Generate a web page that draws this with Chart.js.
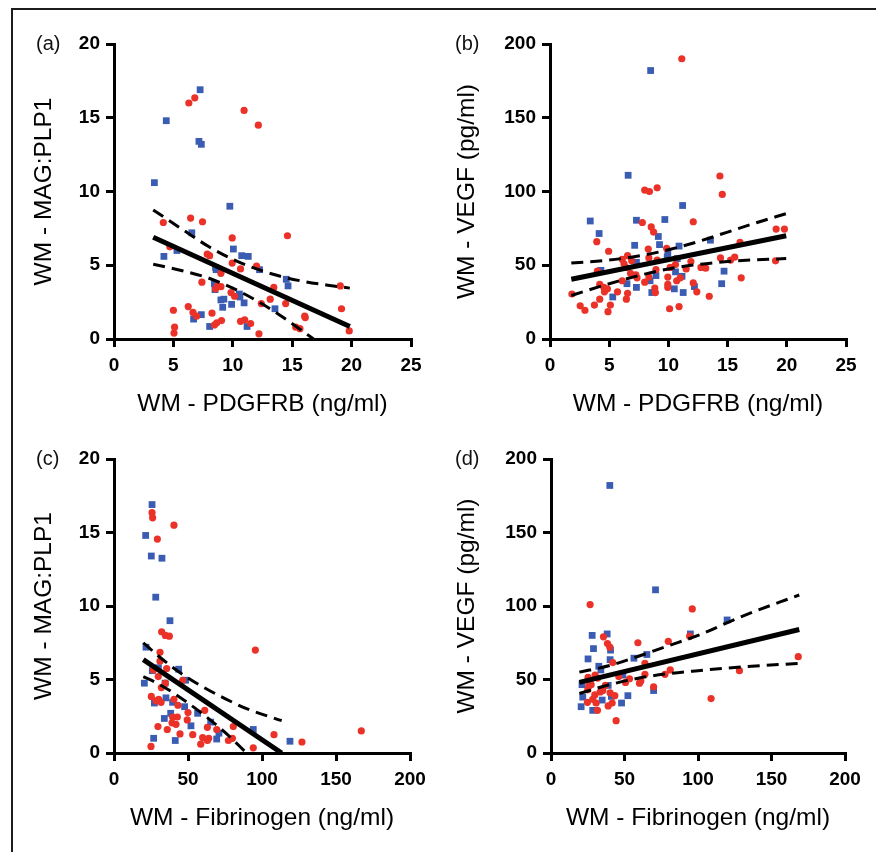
<!DOCTYPE html>
<html><head><meta charset="utf-8">
<script src="https://cdn.jsdelivr.net/npm/chart.js@4.4.1/dist/chart.umd.min.js"></script>
<style>
html,body{margin:0;padding:0;background:#fff}
body{width:876px;height:852px;overflow:hidden;position:relative;font-family:"Liberation Sans",Arial,Helvetica,sans-serif}
.frame{position:absolute;left:11px;top:8px;width:880px;height:860px;border-left:2.5px solid #1c1c1c;border-top:2.5px solid #1c1c1c;box-sizing:border-box}
canvas{position:absolute;left:0;top:0;pointer-events:none}
.lbl{position:absolute;font-size:20px;line-height:20px;color:#111}
</style></head><body>
<div class="frame"></div>
<canvas id="ca" width="876" height="852"></canvas>
<canvas id="cb" width="876" height="852"></canvas>
<canvas id="cc" width="876" height="852"></canvas>
<canvas id="cd" width="876" height="852"></canvas>
<div class="lbl" style="left:36px;top:33px">(a)</div>
<div class="lbl" style="left:455px;top:33px">(b)</div>
<div class="lbl" style="left:36px;top:448px">(c)</div>
<div class="lbl" style="left:455px;top:448px">(d)</div>
<script>
// ---------- tick labels ----------
const xTicksPDGFRB = [0, 5, 10, 15, 20, 25];
const xTicksFib = [0, 50, 100, 150, 200];
const yTicksRatio = [0, 5, 10, 15, 20];
const yTicksVEGF = [0, 50, 100, 150, 200];

// ---------- panel (a): WM PDGFRB vs MAG:PLP1 ----------
const aBlue = [[7.25,16.9],[4.4,14.8],[7.15,13.4],[7.35,13.2],[3.4,10.6],[9.75,9.0],[6.55,7.2],[5.3,6.0],[4.2,5.6],[10.05,6.1],[10.75,5.65],[11.3,5.6],[8.55,4.85],[8.6,4.7],[12.25,4.7],[14.5,4.05],[14.65,3.6],[8.45,3.75],[8.5,3.35],[10.55,3.05],[10.6,2.85],[9.0,2.65],[9.25,2.7],[10.95,2.45],[9.15,2.15],[9.9,2.35],[13.55,2.05],[7.35,1.65],[6.7,1.35],[8.05,0.85],[11.2,0.85]];
const aRed = [[6.3,16.0],[6.8,16.35],[10.95,15.5],[12.15,14.5],[6.45,8.2],[7.45,7.95],[4.15,7.9],[14.6,7.0],[9.95,6.85],[4.7,6.25],[7.85,5.75],[8.05,5.65],[9.95,5.15],[10.65,4.75],[12.0,4.95],[9.0,4.45],[7.4,3.85],[8.7,3.6],[9.0,3.55],[8.55,3.4],[13.45,3.5],[19.05,3.6],[9.85,3.15],[10.15,2.9],[13.15,2.7],[12.4,2.4],[14.45,2.4],[19.15,2.05],[5.0,1.95],[6.25,2.2],[6.65,1.8],[6.95,1.55],[8.25,1.75],[16.1,1.45],[16.05,1.55],[10.65,1.2],[11.0,1.3],[11.5,1.05],[9.05,1.25],[8.65,1.1],[8.45,0.95],[5.1,0.8],[5.05,0.4],[12.2,0.35],[15.3,0.8],[15.65,0.7],[19.8,0.55]];
const aFit = [[3.3,6.9],[19.85,0.85]];
const aUpper = [[3.3,8.75],[6,7.3],[8,6.25],[10,5.4],[12,4.75],[14,4.25],[16,3.9],[18,3.65],[19.85,3.45]];
const aLower = [[3.3,5.07],[6,4.58],[8,4.12],[10,3.45],[12,2.6],[14,1.6],[16,0.46],[16.8,0]];

// ---------- panel (b): WM PDGFRB vs VEGF ----------
const bBlue = [[8.5,182],[6.6,111],[11.2,90.5],[3.4,80],[7.3,80.5],[9.7,81],[4.15,71.5],[9.15,69.5],[13.55,67],[7.15,63.5],[9.25,64],[10.9,63],[9.95,58.5],[9.9,55.5],[10.75,54.5],[7.3,52],[4.3,46.5],[14.7,46],[10.6,45.5],[8.95,43],[11.15,42.5],[6.5,37.5],[8.45,39.5],[14.5,37.5],[7.3,35],[12.2,35.5],[10.5,34],[8.6,31.5],[11.25,31.5],[5.3,28.5]];
const bRed = [[11.13,190],[14.35,110.5],[14.55,98],[8.0,101],[8.4,100],[9.05,102.5],[7.8,79],[8.55,76],[8.75,72.5],[12.1,79.5],[19.1,74.5],[19.8,74.5],[3.95,66],[16.05,65.5],[4.95,59.5],[8.3,61],[9.85,61.5],[6.55,56.5],[6.1,54],[6.9,53],[8.35,55],[9.05,53.5],[14.4,55],[15.25,53.5],[15.6,55.5],[19.05,53],[11.9,52.5],[6.25,51],[6.4,48.5],[10.6,50.5],[10.15,48.5],[12.75,48.5],[13.15,48],[11.5,47.5],[4.0,46],[6.8,44.5],[7.25,43.5],[7.35,41.5],[8.35,42],[8.95,47],[9.95,42],[11.0,41.5],[10.7,39.5],[16.15,41.5],[6.1,39.5],[4.2,37],[8.0,38.5],[12.1,38],[9.95,37],[4.55,35],[4.85,34],[8.85,34.5],[9.95,35],[4.6,32],[5.7,32],[6.55,31],[12.4,32],[8.9,31.5],[1.85,30.5],[4.2,27],[6.45,27],[13.45,29],[2.55,22.5],[3.75,23],[5.1,23],[2.95,19.5],[4.9,18.5],[10.1,20.5],[10.9,22]];
const bFit = [[1.8,40.5],[19.95,70]];
const bUpper = [[1.8,51.5],[5,53.5],[8,57],[10,60.5],[12.5,66],[15,72.5],[17.5,79],[19.95,85]];
const bLower = [[1.8,29.5],[5,37.5],[8,44],[10,47.5],[12.5,50.5],[15,52.5],[17.5,53.8],[19.95,54.5]];

// ---------- panel (c): WM Fibrinogen vs MAG:PLP1 ----------
const cBlue = [[25.7,16.9],[21.4,14.8],[25.2,13.4],[32.4,13.25],[28.2,10.6],[37.8,9.0],[21.6,7.2],[30,5.8],[43.7,5.7],[25.9,5.6],[48.4,4.95],[34.5,4.75],[20.5,4.75],[35.1,3.75],[27.3,3.4],[39.6,3.45],[38.3,2.7],[47.7,3.15],[56.5,2.7],[34,2.35],[52,1.85],[65.3,2.1],[70.9,1.35],[69.4,0.95],[41.4,0.85],[26.8,1.0],[94.1,1.6],[118.9,0.8]];
const cRed = [[25.7,16.35],[26.1,16.0],[40.5,15.5],[29.3,14.55],[32.2,8.25],[34.7,8.0],[37.4,7.95],[95.5,7.0],[31.1,6.85],[31.1,6.25],[35.6,5.75],[26.6,5.65],[29.9,5.2],[46.4,4.95],[34.7,4.75],[32,4.45],[25.2,3.85],[30.2,3.65],[31.8,3.45],[28.4,3.55],[40.5,3.65],[43.2,3.25],[39.6,2.45],[42.8,2.45],[39.2,2.05],[41.9,1.95],[50,2.75],[49.5,2.25],[61.3,2.9],[63.1,1.75],[80.6,1.8],[69.4,1.6],[29.7,1.8],[36,1.6],[44.6,1.3],[53.2,1.25],[59.9,1.05],[63.1,0.85],[64,1.0],[58.6,0.6],[77.3,0.85],[80,1.0],[94.1,0.35],[25,0.45],[108.1,1.25],[127,0.75],[167.1,1.5]];
const cFit = [[19.8,6.35],[113.3,0]];
const cUpper = [[19.8,7.5],[30,6.6],[40,5.8],[50,5.1],[60,4.5],[75,3.7],[90,3.0],[113.3,2.2]];
const cLower = [[19.8,5.2],[30,4.7],[40,4.1],[50,3.4],[60,2.65],[75,1.4],[89.6,0]];

// ---------- panel (d): WM Fibrinogen vs VEGF ----------
const dBlue = [[40,182],[71.1,111],[119.8,90.5],[94.8,81],[38.2,81],[28,80],[28.9,71],[40.5,70],[25.2,64],[40.2,63.5],[56.4,64.5],[65.2,67],[32.5,59],[33.9,56.5],[48.9,53],[21.1,46.5],[38.9,46],[69.8,42.5],[21.6,38],[34.8,36],[52.3,39],[48,34],[20.5,31.5],[28.4,29],[41.1,38.5]];
const dRed = [[26.6,101],[96.1,98],[94.3,79.5],[59.1,75],[79.8,76],[35.7,79],[38.4,74.5],[40,72],[42,61.5],[63.9,61],[168.2,65.5],[128.2,56],[81.1,56.5],[77.5,53.5],[63.9,53.5],[46.1,52],[53.4,50.5],[60.2,47.5],[61.1,49],[50.7,48],[25.2,51.5],[30,53],[31.8,51],[27.3,46.5],[25,43],[37,46],[35.2,42.5],[29.8,39.5],[33.4,41.5],[40.2,41],[43.4,39],[69.8,45],[108.9,37],[30.7,34],[31.6,29],[38.9,32],[41.6,34],[44.3,22],[24.8,34.5],[28.4,36.5],[25.7,45.5]];
const dFit = [[19.3,48],[168.9,84]];
const dUpper = [[19.3,55],[40,59.5],[60,66],[80,73],[100,80],[130,93],[168.9,107.5]];
const dLower = [[19.3,40.5],[40,46.5],[60,51],[80,54],[100,56],[130,58.5],[168.9,61]];

const RED = '#EB3229';
const BLUE = '#3A5CB2';
const FONT = "'Liberation Sans', Arial, Helvetica, sans-serif";
const TITLE_SIZE = 24.5;

const pts = a => a.map(p => ({x: p[0], y: p[1]}));
function lineDs(arr, w, dash, curved) {
  return {data: pts(arr), showLine: true, pointRadius: 0, borderColor: '#000', backgroundColor: '#000',
    borderWidth: w, borderDash: dash, fill: false, tension: curved ? 0.4 : 0, cubicInterpolationMode: curved ? 'monotone' : 'default', borderCapStyle: 'butt'};
}

function panel(id, p) {
  const half = TITLE_SIZE * 1.2 / 2;
  const xH = 404 - 339 + half;          // x-axis box height (ticks+labels+title)
  const yW = p.left - p.titleX + half;  // y-axis box width
  return new Chart(document.getElementById(id), {
    type: 'scatter',
    data: {datasets: [
      lineDs(p.fit, 5, [], false),
      lineDs(p.upper, 3, [12, 7], true),
      lineDs(p.lower, 3, [12, 7], true),
      {data: pts(p.red), pointStyle: 'circle', pointRadius: 3.6, backgroundColor: RED, borderWidth: 0},
      {data: pts(p.blue), pointStyle: 'rect', pointRadius: 4.8, backgroundColor: BLUE, borderWidth: 0}
    ]},
    options: {
      responsive: false, animation: false, events: [],
      layout: {padding: {left: p.left - yW, right: 876 - p.right, top: p.top, bottom: 852 - p.bottom - xH}},
      plugins: {legend: {display: false}, tooltip: {enabled: false}},
      scales: {
        x: {
          type: 'linear', min: p.xTicks[0], max: p.xTicks[p.xTicks.length - 1],
          afterBuildTicks: s => { s.ticks = p.xTicks.map(v => ({value: v})); },
          afterFit: s => { s.height = xH; },
          ticks: {font: {family: FONT, size: 19, weight: 'bold'}, color: '#000', padding: 7, maxRotation: 0},
          grid: {drawOnChartArea: false, drawTicks: true, tickLength: 8, color: '#000', lineWidth: 3},
          border: {display: true, color: '#000', width: 3},
          title: {display: true, text: p.xTitle, font: {family: FONT, size: TITLE_SIZE}, color: '#000', padding: 0}
        },
        y: {
          type: 'linear', min: p.yTicks[0], max: p.yTicks[p.yTicks.length - 1],
          afterBuildTicks: s => { s.ticks = p.yTicks.map(v => ({value: v})); },
          afterFit: s => { s.width = yW; },
          ticks: {font: {family: FONT, size: 19, weight: 'bold'}, color: '#000', padding: 6},
          grid: {drawOnChartArea: false, drawTicks: true, tickLength: 8, color: '#000', lineWidth: 3},
          border: {display: true, color: '#000', width: 3},
          title: {display: true, text: p.yTitle, font: {family: FONT, size: TITLE_SIZE}, color: '#000', padding: 0}
        }
      }
    }
  });
}

panel('ca', {left: 114, right: 411, top: 44, bottom: 339, titleX: 44,
  xTicks: xTicksPDGFRB, yTicks: yTicksRatio, xTitle: 'WM - PDGFRB (ng/ml)', yTitle: 'WM - MAG:PLP1',
  blue: aBlue, red: aRed, fit: aFit, upper: aUpper, lower: aLower});
panel('cb', {left: 550, right: 846, top: 44, bottom: 339, titleX: 467,
  xTicks: xTicksPDGFRB, yTicks: yTicksVEGF, xTitle: 'WM - PDGFRB (ng/ml)', yTitle: 'WM - VEGF (pg/ml)',
  blue: bBlue, red: bRed, fit: bFit, upper: bUpper, lower: bLower});
panel('cc', {left: 114, right: 410, top: 459, bottom: 753, titleX: 44,
  xTicks: xTicksFib, yTicks: yTicksRatio, xTitle: 'WM - Fibrinogen (ng/ml)', yTitle: 'WM - MAG:PLP1',
  blue: cBlue, red: cRed, fit: cFit, upper: cUpper, lower: cLower});
panel('cd', {left: 551, right: 845, top: 459, bottom: 753, titleX: 467,
  xTicks: xTicksFib, yTicks: yTicksVEGF, xTitle: 'WM - Fibrinogen (ng/ml)', yTitle: 'WM - VEGF (pg/ml)',
  blue: dBlue, red: dRed, fit: dFit, upper: dUpper, lower: dLower});
</script>
</body></html>
